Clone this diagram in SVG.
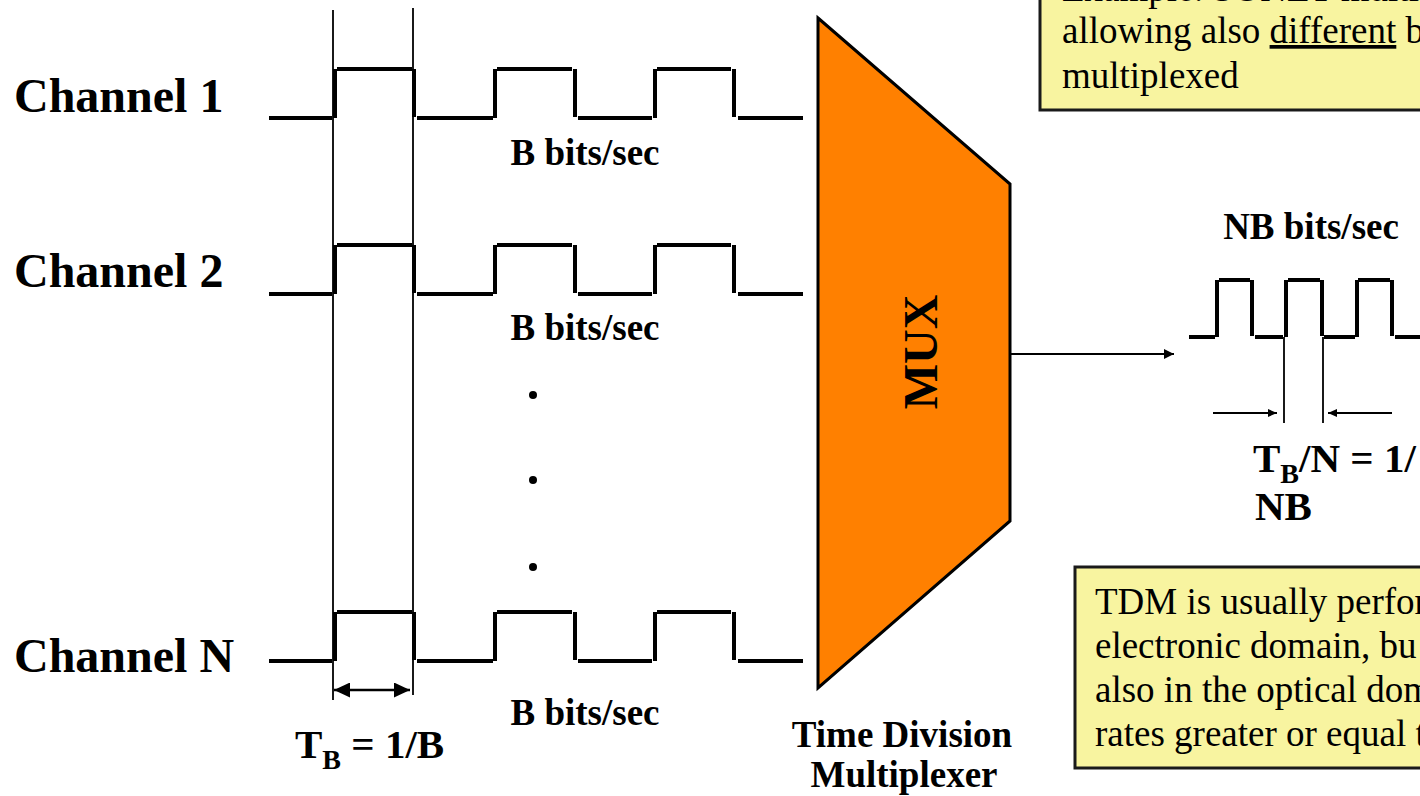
<svg xmlns="http://www.w3.org/2000/svg" xmlns:xlink="http://www.w3.org/1999/xlink" width="1420" height="796" viewBox="0 0 1420 796">
<style>
.lbl{font-family:"Liberation Serif","Times New Roman",serif;font-weight:bold;fill:#000}
.reg{font-family:"Liberation Serif","Times New Roman",serif;fill:#000;font-size:37px}
.wave{fill:none;stroke:#000;stroke-width:4;stroke-linecap:butt}
.thin{fill:none;stroke:#000;stroke-width:1.8}
.note{fill:#F8F4A0;stroke:#1a1a1a;stroke-width:3}
</style>
<defs>
<marker id="headBig" viewBox="0 0 16 15" refX="16" refY="7.5" markerWidth="16" markerHeight="15" markerUnits="userSpaceOnUse" orient="auto-start-reverse">
<path d="M0,0 L16,7.5 L0,15 z" fill="#000"/>
</marker>
<marker id="headSmall" viewBox="0 0 10 10" refX="10" refY="5" markerWidth="10" markerHeight="10" markerUnits="userSpaceOnUse" orient="auto">
<path d="M0,0 L10,5 L0,10 z" fill="#000"/>
</marker>
<marker id="headTiny" viewBox="0 0 9 8" refX="9" refY="4" markerWidth="9" markerHeight="8" markerUnits="userSpaceOnUse" orient="auto">
<path d="M0,0 L9,4 L0,8 z" fill="#000"/>
</marker>
<path id="bwave" class="wave" d="M269,118 H332 M335,69 V118 M337,69 H412 M414,69 V117 M417,118 H493 M495,69 V118 M497,69 H572 M575,69 V117 M578,118 H652 M655,69 V118 M657,69 H731 M734,69 V117 M738,118 H803"/>
</defs>

<g id="note-top">
<rect class="note" x="1040" y="-10" width="400" height="120"/>
<text class="reg" x="1062" y="1">Example: SONET multi</text>
<text class="reg" x="1062" y="43">allowing also <tspan text-decoration="underline">different</tspan> b</text>
<text class="reg" x="1062" y="88">multiplexed</text>
</g>

<g id="channel-1">
<text class="lbl" font-size="48" x="14" y="112">Channel 1</text>
<use xlink:href="#bwave" href="#bwave"/>
<text class="lbl" font-size="37" x="585" y="165" text-anchor="middle">B bits/sec</text>
</g>

<g id="channel-2">
<text class="lbl" font-size="48" x="14" y="287">Channel 2</text>
<use xlink:href="#bwave" href="#bwave" transform="translate(0,176)"/>
<text class="lbl" font-size="37" x="585" y="340" text-anchor="middle">B bits/sec</text>
</g>

<g id="ellipsis">
<circle cx="533" cy="395" r="4" fill="#000"/>
<circle cx="533" cy="480" r="4" fill="#000"/>
<circle cx="533" cy="567" r="4" fill="#000"/>
</g>

<g id="channel-N">
<text class="lbl" font-size="48" x="14" y="672">Channel N</text>
<use xlink:href="#bwave" href="#bwave" transform="translate(0,543)"/>
<text class="lbl" font-size="37" x="585" y="725" text-anchor="middle">B bits/sec</text>
</g>

<g id="bit-period">
<line class="thin" x1="333" y1="10" x2="333" y2="700"/>
<line class="thin" x1="413" y1="8" x2="413" y2="695"/>
<text class="lbl" font-size="41" x="295" y="758">T<tspan font-size="28" dy="11">B</tspan><tspan dy="-11"> = 1/B</tspan></text>
</g>

<g id="mux">
<polygon points="818,18 1010,184 1010,521 818,688" fill="#FF8000" stroke="#000" stroke-width="3" stroke-linejoin="miter"/>
<text class="lbl" font-size="48" x="937" y="352" text-anchor="middle" transform="rotate(-90 937 352)">MUX</text>
<text class="lbl" font-size="37" x="902" y="747" text-anchor="middle">Time Division</text>
<text class="lbl" font-size="37" x="904" y="787" text-anchor="middle">Multiplexer</text>
</g>

<g id="output">
<text class="lbl" font-size="37" x="1311" y="239" text-anchor="middle">NB bits/sec</text>
<path class="wave" d="M1189,337 H1215 M1217,280 V337 M1219,280 H1250 M1252,280 V336 M1255,337 H1283 M1286,280 V337 M1288,280 H1320 M1322,280 V336 M1324,337 H1355 M1357,280 V337 M1358,280 H1390 M1392,280 V336 M1395,337 H1425"/>
<line class="thin" x1="1284" y1="337" x2="1284" y2="423"/>
<line class="thin" x1="1323" y1="337" x2="1323" y2="423"/>
<text class="lbl" font-size="41" x="1253" y="472">T<tspan font-size="28" dy="11">B</tspan><tspan dy="-11">/N = 1/</tspan></text>
<text class="lbl" font-size="41" x="1255" y="520">NB</text>
</g>

<g id="note-bottom">
<rect class="note" x="1075" y="567" width="360" height="201"/>
<text class="reg" x="1095" y="614">TDM is usually perfor</text>
<text class="reg" x="1095" y="658">electronic domain, bu</text>
<text class="reg" x="1095" y="702">also in the optical dom</text>
<text class="reg" x="1095" y="746">rates greater or equal t</text>
</g>

<g id="connectors">
<line x1="1011" y1="354" x2="1174" y2="354" stroke="#000" stroke-width="2" marker-end="url(#headSmall)"/>
<line x1="334" y1="690" x2="410" y2="690" stroke="#000" stroke-width="2.5" marker-start="url(#headBig)" marker-end="url(#headBig)"/>
<line x1="1213" y1="413" x2="1277" y2="413" stroke="#000" stroke-width="1.8" marker-end="url(#headTiny)"/>
<line x1="1392" y1="413" x2="1328" y2="413" stroke="#000" stroke-width="1.8" marker-end="url(#headTiny)"/>
</g>
</svg>
